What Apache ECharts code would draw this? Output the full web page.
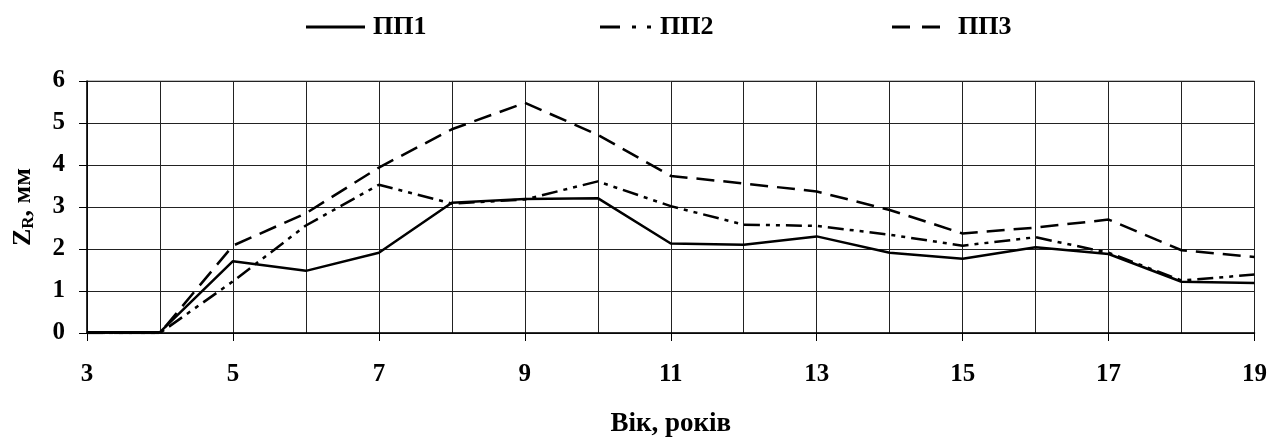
<!DOCTYPE html>
<html>
<head>
<meta charset="utf-8">
<script src="https://cdn.jsdelivr.net/npm/echarts@6/dist/echarts.min.js"></script>
<style>
html,body{margin:0;padding:0;background:#fff;}
#chart{width:1270px;height:443px;}
</style>
</head>
<body>
<div id="chart"></div>
<script>
const categories = ['3','4','5','6','7','8','9','10','11','12','13','14','15','16','17','18','19'];
const pp1 = [0.02,0.02,1.71,1.48,1.91,3.10,3.19,3.21,2.13,2.10,2.30,1.91,1.77,2.04,1.88,1.22,1.19];
const pp2 = [0.0,0.0,1.23,2.56,3.53,3.08,3.18,3.61,3.02,2.58,2.55,2.34,2.08,2.28,1.91,1.25,1.39];
const pp3 = [0.0,0.0,2.08,2.85,3.94,4.85,5.48,4.72,3.74,3.56,3.37,2.93,2.37,2.51,2.70,1.97,1.81];
const seriesNames = ['ПП1','ПП2','ПП3'];
const yTicks = [0,1,2,3,4,5,6];

const FONT = '"Liberation Serif", "Times New Roman", serif';
const chart = echarts.init(document.getElementById('chart'), null, {renderer:'canvas'});

function mkSeries(name, data, dash){
  return {
    name: name, type: 'line', data: data, symbol: 'none', smooth: false,
    lineStyle: {color:'#000', width: 2.5, type: dash},
    itemStyle: {color:'#000'},
    animation: false
  };
}
const legendText = {fontFamily: FONT, fontWeight: 'bold', fontSize: 26, color: '#000'};
function mkLegend(name, left, w, gap, icon){
  return {
    left: left, top: 9, itemWidth: w, itemHeight: 3, itemGap: 0,
    textStyle: Object.assign({padding:[0,0,0,gap-5]}, legendText),
    data: [{name: name, icon: icon, itemStyle:{color:'#000', borderWidth:0}}],
    selectedMode: false
  };
}

chart.setOption({
  animation: false,
  backgroundColor: '#fff',
  legend: [
    mkLegend(seriesNames[0], 301, 59, 8, 'path://M0,0H59V3H0Z'),
    mkLegend(seriesNames[1], 595, 51, 9, 'path://M0,0H20V3H0Z M32,0H36V3H32Z M47,0H51V3H47Z'),
    mkLegend(seriesNames[2], 887, 48, 18, 'path://M0,0H18V3H0Z M30,0H48V3H30Z')
  ],
  grid: {left: 87, right: 13, top: 81, bottom: 103, show: true, borderColor: '#808080', borderWidth: 1},
  xAxis: {
    type: 'category', data: categories, boundaryGap: false,
    name: 'Вік, років', nameLocation: 'middle', nameGap: 78,
    nameTextStyle: {fontFamily: FONT, fontWeight: 'bold', fontSize: 27, color: '#000'},
    axisLine: {show: true, lineStyle: {color: '#000', width: 1.5}},
    axisTick: {show: true, interval: 1, length: 8, lineStyle: {color: '#000', width: 1}},
    axisLabel: {interval: 1, margin: 29, fontFamily: FONT, fontWeight: 'bold', fontSize: 25, color: '#000'},
    splitLine: {show: true, interval: 0, lineStyle: {color: '#222', width: 1}}
  },
  yAxis: {
    type: 'value', min: yTicks[0], max: yTicks[yTicks.length-1], interval: 1,
    name: '{z|Z}{s|R}{z|, мм}', nameLocation: 'middle', nameGap: 50, nameRotate: 90,
    nameTextStyle: {
      fontFamily: FONT, fontWeight: 'bold', fontSize: 26, color: '#000',
      rich: {
        z: {fontFamily: FONT, fontWeight: 'bold', fontSize: 26, color: '#000'},
        s: {fontFamily: FONT, fontWeight: 'bold', fontSize: 17, color: '#000', verticalAlign: 'bottom', padding:[10,0,0,0]}
      }
    },
    axisLine: {show: true, lineStyle: {color: '#000', width: 1.5}},
    axisTick: {show: true, length: 8, lineStyle: {color: '#000', width: 1}},
    axisLabel: {margin: 22, fontFamily: FONT, fontWeight: 'bold', fontSize: 25, color: '#000'},
    splitLine: {show: true, lineStyle: {color: '#222', width: 1}}
  },
  series: [
    mkSeries(seriesNames[0], pp1, 'solid'),
    mkSeries(seriesNames[1], pp2, [16,6,4,6,4,6]),
    mkSeries(seriesNames[2], pp3, [18,9])
  ]
});
</script>
</body>
</html>
